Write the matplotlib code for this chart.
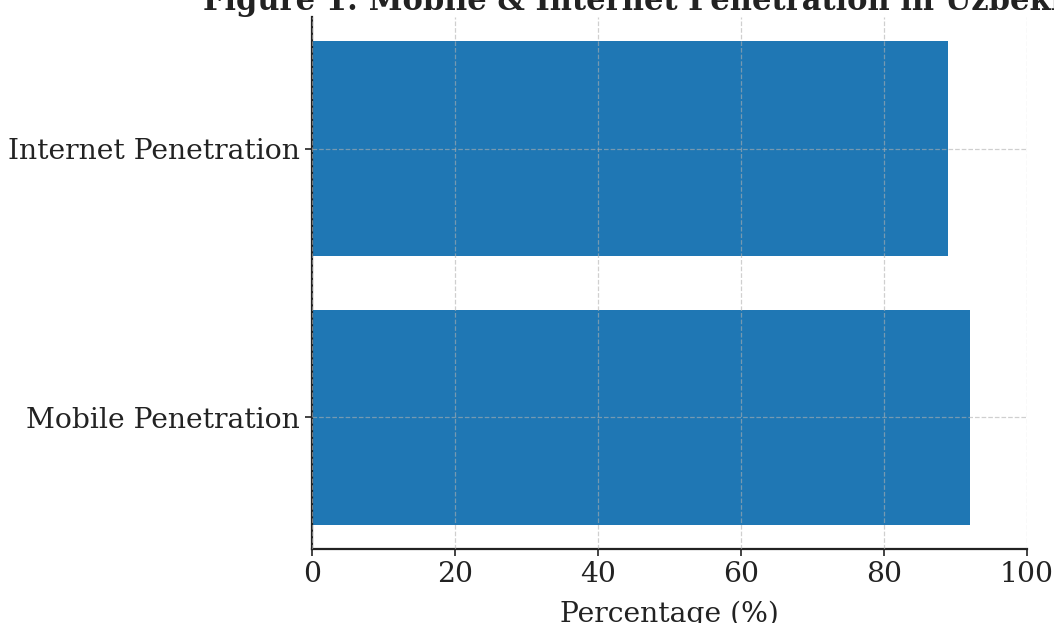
import matplotlib.pyplot as plt

# data
categories = ['Mobile Penetration', 'Internet Penetration']
values = [92, 89]
title = 'Figure 1: Mobile & Internet Penetration in Uzbekistan'

plt.rcParams['font.family'] = 'DejaVu Serif'

fig = plt.figure(figsize=(10.54, 6.23), dpi=100)
# axes placed so the picture is cropped like the reference
ax = fig.add_axes([312 / 1054, 1 - 549 / 623, (1027 - 312) / 1054, (549 - 17) / 623])

ax.barh(categories, values, color='#1f77b4', height=0.8, zorder=1)
ax.set_xlim(0, 100)
ax.grid(True, linestyle='--', color='#b0b0b0', alpha=0.6, linewidth=0.9, zorder=2)
ax.set_axisbelow(False)

for s in ['top', 'right']:
    ax.spines[s].set_visible(False)
for s in ['left', 'bottom']:
    ax.spines[s].set_color('#222222')
    ax.spines[s].set_linewidth(1.6)

ax.tick_params(axis='both', labelsize=20.3, colors='#222222', length=5, width=1.2)
ax.set_xlabel('Percentage (%)', fontsize=20.3, color='#222222', labelpad=9.5)
ax.set_title(title, fontsize=22, fontweight='bold', color='#222222', pad=4)

fig.savefig('out.png', dpi=100)
